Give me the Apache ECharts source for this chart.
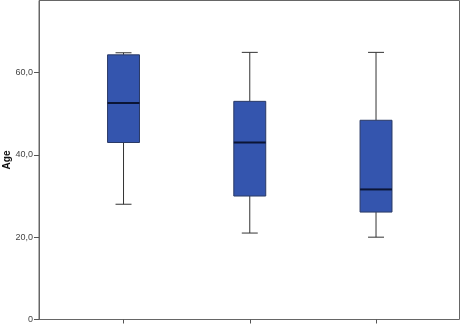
<!DOCTYPE html>
<html>
<head>
<meta charset="utf-8">
<script src="https://cdn.jsdelivr.net/npm/echarts@6/dist/echarts.min.js"></script>
<style>
  html, body { margin: 0; padding: 0; background: #fff; }
  #box-chart { width: 461px; height: 326px; }
</style>
</head>
<body>
<div id="box-chart"></div>
<script>
// groups on the x axis (no labels visible in the picture)
var groups = ['1', '2', '3'];
// five-number summaries
var lowWhisker = [28.0, 21.0, 20.0];
var lowerQuart = [43.0, 30.0, 26.1];
var medians    = [52.6, 43.0, 31.6];
var upperQuart = [64.3, 53.0, 48.4];
var highWhisker = [64.8, 64.9, 64.9];
var yTicks = [0, 20, 40, 60];

function boxChart() {
    var chart = echarts.init(document.getElementById('box-chart'));

    var boxData = groups.map(function (g, i) {
        return [i, lowWhisker[i], lowerQuart[i], medians[i], upperQuart[i], highWhisker[i]];
    });

    function renderBox(params, api) {
        var idx = api.value(0);
        var band = api.size([1, 0])[0];
        var boxW = band * 0.253;
        var capW = boxW * 0.5;
        var pLow = api.coord([idx, api.value(1)]);
        var pQ1 = api.coord([idx, api.value(2)]);
        var pMed = api.coord([idx, api.value(3)]);
        var pQ3 = api.coord([idx, api.value(4)]);
        var pHigh = api.coord([idx, api.value(5)]);
        var cx = pMed[0];
        var whisker = { stroke: '#333', lineWidth: 1 };
        return {
            type: 'group',
            children: [
                { type: 'line', shape: { x1: cx, y1: pHigh[1], x2: cx, y2: pQ3[1] }, style: whisker },
                { type: 'line', shape: { x1: cx, y1: pQ1[1], x2: cx, y2: pLow[1] }, style: whisker },
                { type: 'line', shape: { x1: cx - capW / 2, y1: pHigh[1], x2: cx + capW / 2, y2: pHigh[1] }, style: whisker },
                { type: 'line', shape: { x1: cx - capW / 2, y1: pLow[1], x2: cx + capW / 2, y2: pLow[1] }, style: whisker },
                {
                    type: 'rect',
                    shape: { x: cx - boxW / 2, y: pQ3[1], width: boxW, height: pQ1[1] - pQ3[1] },
                    style: { fill: '#3455ae', stroke: '#2a3a66', lineWidth: 1 }
                },
                { type: 'line', shape: { x1: cx - boxW / 2, y1: pMed[1], x2: cx + boxW / 2, y2: pMed[1] },
                  style: { stroke: '#0b1535', lineWidth: 2 } }
            ]
        };
    }

    var option = {
        animation: false,
        grid: [
            // outer frame with the value axis
            { left: 39, top: 0.5, width: 420.5, height: 319, show: true, borderColor: '#666', borderWidth: 1,
              backgroundColor: 'transparent', outerBoundsMode: 'none', containLabel: false },
            // inner grid holding the boxes
            { left: 60.4, top: 0.5, width: 378.75, height: 319, outerBoundsMode: 'none', containLabel: false }
        ],
        xAxis: [
            { gridIndex: 0, type: 'value', min: 0, max: 1, show: false },
            {
                gridIndex: 1, type: 'category', data: groups,
                axisLine: { show: true, lineStyle: { color: '#666' } },
                axisTick: { show: true, alignWithLabel: true, length: 4, lineStyle: { color: '#555' } },
                axisLabel: { show: false }
            }
        ],
        yAxis: [
            {
                gridIndex: 0, type: 'value', min: 0, max: 77.5,
                name: 'Age', nameLocation: 'middle', nameGap: 27, nameMoveOverlap: false,
                nameTextStyle: { fontFamily: 'Liberation Sans', fontWeight: 'bold', fontSize: 10, color: '#111' },
                axisLine: { show: true, lineStyle: { color: '#666' } },
                axisTick: { show: true, length: 5, customValues: yTicks, lineStyle: { color: '#555' } },
                axisLabel: {
                    customValues: yTicks, margin: 6,
                    fontFamily: 'Liberation Sans', fontSize: 9, color: '#444',
                    formatter: function (v) { return v === 0 ? '0' : v.toFixed(1).replace('.', ','); }
                },
                splitLine: { show: false }
            },
            { gridIndex: 1, type: 'value', min: 0, max: 77.5, show: false }
        ],
        series: [
            {
                type: 'custom',
                xAxisIndex: 1,
                yAxisIndex: 1,
                renderItem: renderBox,
                data: boxData
            }
        ]
    };

    option && chart.setOption(option);
}
boxChart();
</script>
</body>
</html>
